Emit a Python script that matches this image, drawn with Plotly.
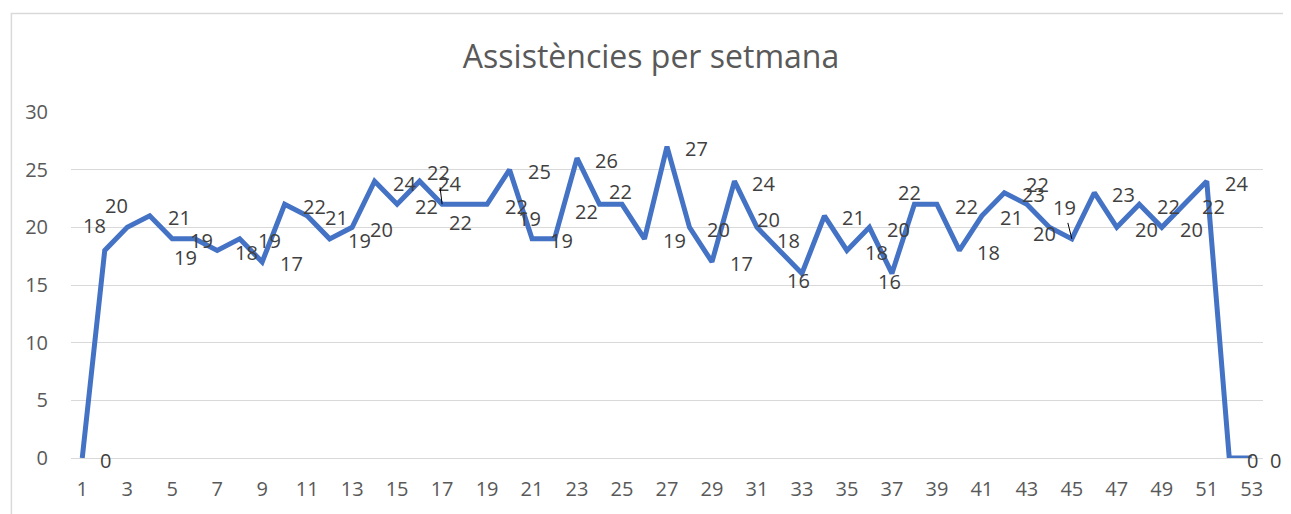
import plotly.graph_objects as go

# ---- data ----
weeks = list(range(1, 54))
attendance = [0, 18, 20, 21, 19, 19, 18, 19, 17, 22,
              21, 19, 20, 24, 22, 24, 22, 22, 22, 25,
              19, 19, 26, 22, 22, 19, 27, 20, 17, 24,
              20, 18, 16, 21, 18, 20, 16, 22, 22, 18,
              21, 23, 22, 20, 19, 23, 20, 22, 20, 22,
              24, 0, 0]
title_text = "Assistències per setmana"
y_ticks = [0, 5, 10, 15, 20, 25, 30]

# ---- style ----
LINE_COLOR = "#4472C4"
GRID = "#D9D9D9"
TICK_COLOR = "#595959"
LABEL_COLOR = "#404040"
FONT = "Open Sans"
FS = 20
PAGE_PAD = 8  # default body margin of the html page

# label placement overrides (pixel offsets of label centre from the point; dy downward)
label_offsets = {
    2: (-10.5, -24.5), 3: (-10.6, -22), 6: (-8.8, 18.7), 18: (-3.6, 18),
    22: (-25.5, -20), 24: (-13.5, 7), 25: (-1.3, -13), 31: (11.4, -8),
    32: (9, -9.5), 33: (-3, 7), 37: (-2.5, 8), 38: (-5, -12),
    43: (10.5, -20), 44: (-5, 6),
}
leader_offsets = {17: (-3.8, -32), 45: (-7.7, -31)}

fig = go.Figure()
fig.add_trace(go.Scatter(
    x=weeks, y=attendance, mode="lines",
    line=dict(color=LINE_COLOR, width=5),
    hoverinfo="skip", showlegend=False,
))

annotations = []
for w, v in zip(weeks, attendance):
    base = dict(x=w, y=v, xref="x", yref="y", text=str(v),
                font=dict(family=FONT, size=FS, color=LABEL_COLOR))
    if w in leader_offsets:
        dx, dy = leader_offsets[w]
        base.update(showarrow=True, arrowhead=0, arrowwidth=1, arrowcolor="#000000",
                    ax=dx, ay=dy, standoff=0)
    elif w in label_offsets:
        dx, dy = label_offsets[w]
        base.update(showarrow=False, xanchor="center", yanchor="middle",
                    xshift=dx, yshift=-dy)
    else:
        base.update(showarrow=False, xanchor="left", yanchor="middle",
                    xshift=16, yshift=-2)
    annotations.append(base)

W, H = 1291 - PAGE_PAD, 514 - PAGE_PAD
fig.update_layout(
    width=W, height=H,
    margin=dict(l=71 - PAGE_PAD, r=28, t=112 - PAGE_PAD, b=54),
    paper_bgcolor="white", plot_bgcolor="white",
    title=dict(text=title_text, x=(651 - PAGE_PAD) / W, xanchor="center",
               y=1 - (57 - PAGE_PAD) / H, yanchor="middle", yref="container",
               xref="container",
               font=dict(family=FONT, size=32, color=TICK_COLOR)),
    annotations=annotations,
    xaxis=dict(range=[0.5, 53.5], tickmode="linear", tick0=1, dtick=2,
               showgrid=False, zeroline=False, showline=False, ticks="",
               tickfont=dict(family=FONT, size=FS, color=TICK_COLOR),
               ticklabelstandoff=17, fixedrange=True),
    yaxis=dict(range=[0, 30], tickvals=y_ticks, showgrid=True, gridcolor=GRID,
               gridwidth=1, zeroline=True, zerolinecolor=GRID, zerolinewidth=1,
               showline=False, ticks="",
               tickfont=dict(family=FONT, size=FS, color=TICK_COLOR),
               ticklabelstandoff=22, fixedrange=True),
    shapes=[dict(type="rect", xref="paper", yref="paper",
                 x0=-0.05, x1=1.05, y0=-0.3, y1=(460 - 13) / 348,
                 line=dict(color=GRID, width=1.5), fillcolor="rgba(0,0,0,0)",
                 layer="below")],
)

fig.write_html("out.html")
